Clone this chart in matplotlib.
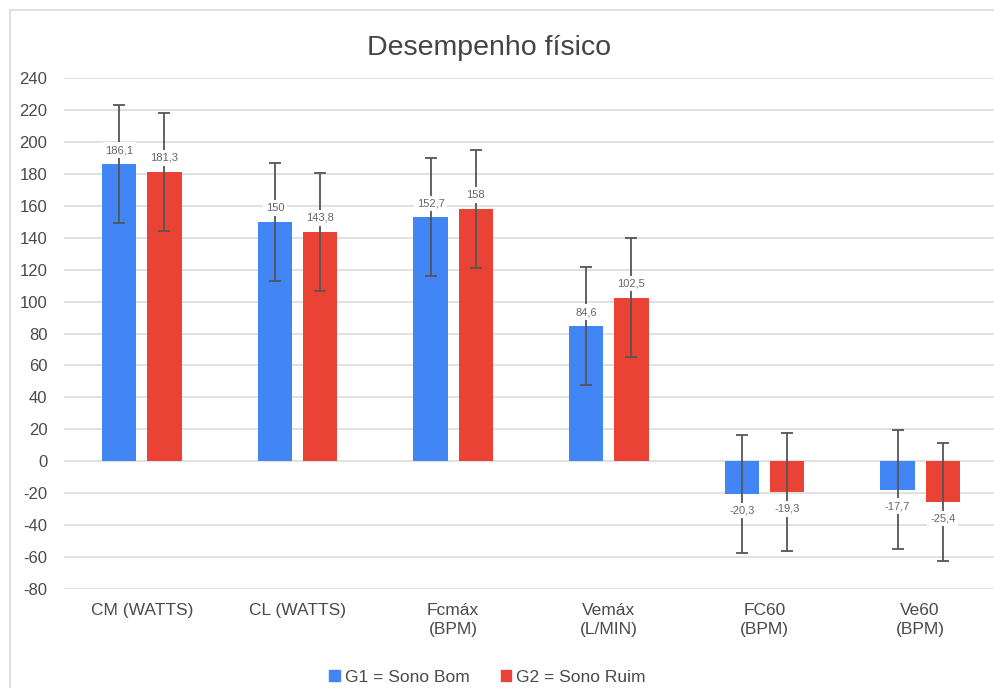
import numpy as np
import matplotlib
matplotlib.use('Agg')
import matplotlib.pyplot as plt
from matplotlib.lines import Line2D
from matplotlib.patches import Patch

plt.rcParams['font.family'] = ['Liberation Sans', 'DejaVu Sans']

# ==== data ====
categories = ['CM (WATTS)', 'CL (WATTS)', 'Fcmáx\n(BPM)', 'Vemáx\n(L/MIN)', 'FC60\n(BPM)', 'Ve60\n(BPM)']
g1_values = [186.1, 150, 152.7, 84.6, -20.3, -17.7]
g2_values = [181.3, 143.8, 158, 102.5, -19.3, -25.4]
g1_err = [37, 37, 37, 37, 37, 37]
g2_err = [37, 37, 37, 37, 37, 37]
g1_labels = ['186,1', '150', '152,7', '84,6', '-20,3', '-17,7']
g2_labels = ['181,3', '143,8', '158', '102,5', '-19,3', '-25,4']
series_names = ['G1 = Sono Bom', 'G2 = Sono Ruim']
yticks = list(range(-80, 241, 20))

blue = '#4285F4'
red = '#EA4335'
grey_txt = '#666666'

fig = plt.figure(figsize=(9.95, 6.88), dpi=100)
ax = fig.add_axes([64 / 995, 1 - 589 / 688, 1 - 64 / 995 + 0.003, (589 - 78) / 688])

x = np.arange(len(categories))
w = 0.22
off = 0.145

bars1 = ax.bar(x - off, g1_values, w, color=blue, zorder=2)
bars2 = ax.bar(x + off, g2_values, w, color=red, zorder=2)

ax.errorbar(x - off, g1_values, yerr=g1_err, fmt='none', ecolor='#555555',
            elinewidth=1.3, capsize=4.5, capthick=1.3, zorder=3)
ax.errorbar(x + off, g2_values, yerr=g2_err, fmt='none', ecolor='#555555',
            elinewidth=1.3, capsize=4.5, capthick=1.3, zorder=3)

# data labels with white box
for xs, vals, labs in [(x - off, g1_values, g1_labels), (x + off, g2_values, g2_labels)]:
    for xi, v, lab in zip(xs, vals, labs):
        dy = 10 if v >= 0 else -12
        ax.annotate(lab, (xi, v), xytext=(0, dy), textcoords='offset points',
                    ha='center', va='center', fontsize=8, color=grey_txt, zorder=4,
                    bbox=dict(boxstyle='square,pad=0.25', fc='white', ec='none'))

ax.set_ylim(-80, 240)
ax.set_xlim(-0.5, 5.5)
ax.set_yticks(yticks)
ax.set_yticklabels([str(t) for t in yticks], fontsize=12, color='#4a4a4a')
ax.set_xticks(x)
ax.set_xticklabels(categories, fontsize=12.5, color='#4a4a4a', linespacing=1.35)
ax.tick_params(axis='both', length=0)
ax.tick_params(axis='y', pad=12)
ax.tick_params(axis='x', pad=10)
ax.grid(axis='y', color='#d9d9d9', linewidth=1.1, zorder=0)
ax.set_axisbelow(True)
for s in ax.spines.values():
    s.set_visible(False)

fig.text(0.492, 1 - 48 / 688, 'Desempenho físico', ha='center', va='center',
         fontsize=20.5, color='#434343')

# outer frame
fig.add_artist(Line2D([10 / 995, 10 / 995], [0, 1 - 10 / 688], color='#d9d9d9', lw=1.2))
fig.add_artist(Line2D([10 / 995, 1], [1 - 10 / 688, 1 - 10 / 688], color='#d9d9d9', lw=1.2))

handles = [Patch(color=blue), Patch(color=red)]
fig.legend(handles, series_names, loc='center', bbox_to_anchor=(0.49, 1 - 677 / 688),
           ncol=2, frameon=False, fontsize=12.5, handlelength=0.6, handleheight=0.6,
           handletextpad=0.3, columnspacing=1.8, labelcolor='#4a4a4a')

plt.savefig('out.png', dpi=100)
